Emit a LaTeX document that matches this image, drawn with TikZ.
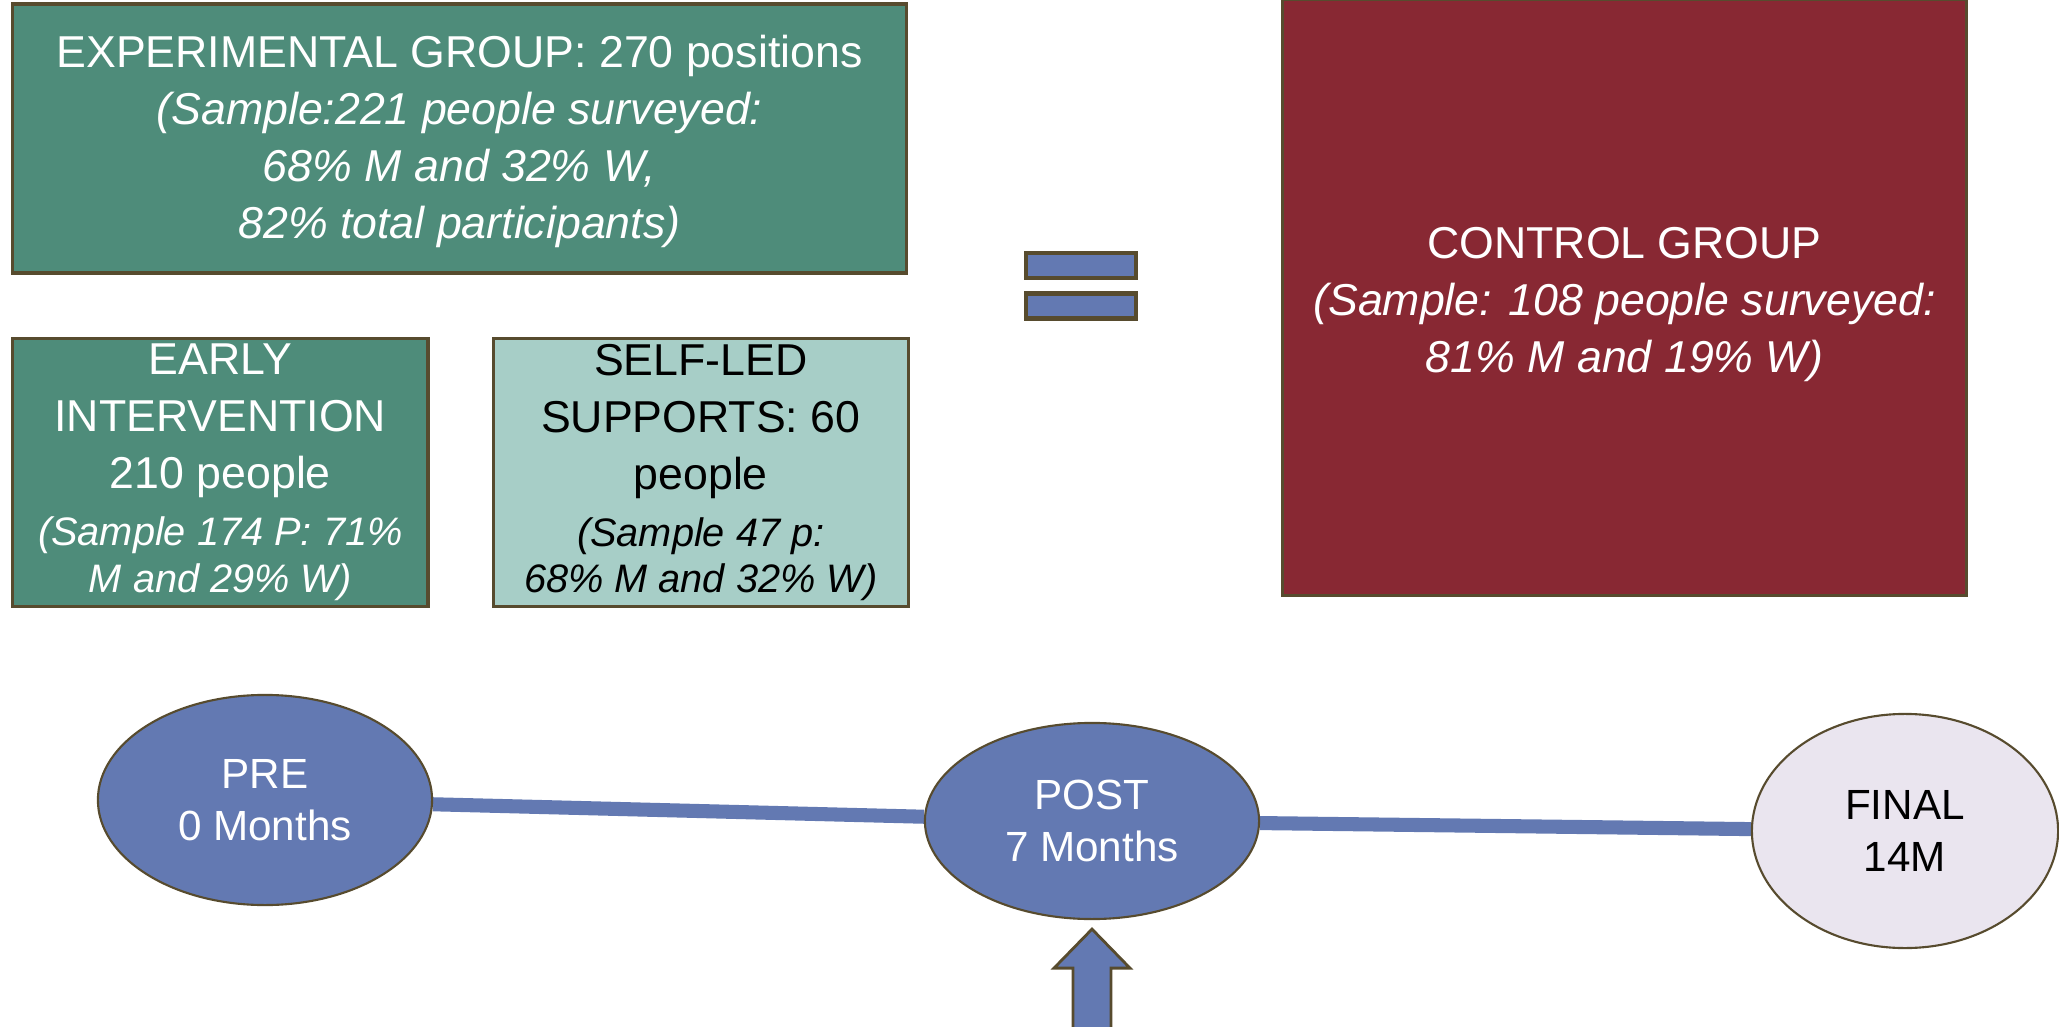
\documentclass[tikz,border=0pt]{standalone}
\usepackage{fontspec}
\setmainfont{Liberation Sans}
\usepackage{xcolor}
\usepackage{tikz}
\usetikzlibrary{positioning, shapes.geometric, backgrounds}

\definecolor{expgreen}{RGB}{78,140,122}
\definecolor{selfteal}{RGB}{167,206,199}
\definecolor{ctrlred}{RGB}{136,40,51}
\definecolor{timeblue}{RGB}{99,121,178}
\definecolor{finallav}{RGB}{234,229,239}
\definecolor{edgebrown}{RGB}{87,75,46}

\newcommand{\smallit}[1]{{\fontsize{11.3}{13.4}\selectfont\itshape #1}}

\begin{document}
\begin{tikzpicture}[
    x=0.01cm,
    y=-0.01cm,
    groupbox/.style={
        rectangle,
        draw=edgebrown,
        line width=0.9pt,
        inner sep=0pt,
        align=center,
        font=\fontsize{12.7}{16.2}\selectfont
    },
    subbox/.style={
        groupbox,
        minimum width=4.15cm,
        minimum height=2.68cm
    },
    eqbar/.style={
        rectangle,
        draw=edgebrown,
        fill=timeblue,
        line width=1.3pt,
        minimum width=1.10cm,
        minimum height=0.25cm,
        inner sep=0pt
    },
    stage/.style={
        ellipse,
        draw=edgebrown,
        line width=0.6pt,
        inner sep=0pt,
        align=center,
        font=\fontsize{12}{14.8}\selectfont
    },
    timeline/.style={draw=timeblue, line width=4pt},
    blockarrow/.style={draw=edgebrown, fill=timeblue, line width=0.8pt, line join=miter},
    node distance=0.62cm
]

\useasboundingbox (0,0) rectangle (2059,1027);

\node[groupbox, fill=expgreen, text=white, minimum width=8.93cm, minimum height=2.69cm] (expgroup) at (459.5,138.5) {
    \rule{0pt}{11pt}EXPERIMENTAL GROUP: 270 positions\\
    \textit{(Sample:221 people surveyed:}\\
    \textit{68\% M and 32\% W,}\\
    \textit{82\% total participants)}
};

\node[subbox, fill=expgreen, text=white, below right=0.62cm and 0cm of expgroup.south west] (early) {
    EARLY\\
    INTERVENTION\\
    210 people\\
    \smallit{(Sample 174 P: 71\%}\\[-3pt]
    \smallit{M and 29\% W)}
};

\node[subbox, fill=selfteal, text=black, right=of early] (selfled) {
    SELF-LED\\
    SUPPORTS: 60\\
    people\\
    \smallit{(Sample 47 p:}\\[-3pt]
    \smallit{68\% M and 32\% W)}
};

\node[eqbar] (eqtop) at (1081,265.5) {};
\node[eqbar, below=0.11cm of eqtop] (eqbottom) {};

\node[groupbox, fill=ctrlred, text=white, minimum width=6.83cm, minimum height=5.95cm] (control) at (1624.5,297.5) {
    \rule{0pt}{12.6pt}CONTROL GROUP\\
    \textit{(Sample: 108 people surveyed:}\\
    \textit{81\% M and 19\% W)}
};

\node[stage, fill=timeblue, text=white, minimum width=3.34cm, minimum height=2.10cm] (pre) at (265,800) {PRE\\0 Months};
\node[stage, fill=timeblue, text=white, minimum width=3.34cm, minimum height=1.96cm] (post) at (1092,821) {POST\\7 Months};
\node[stage, fill=finallav, text=black, minimum width=3.06cm, minimum height=2.34cm] (final) at (1905,831) {FINAL\\14M};

\begin{scope}[on background layer]
    \draw[timeline] (pre) -- (post);
    \draw[timeline] (post) -- (final);
\end{scope}

\coordinate (arrowtip) at ([yshift=-0.09cm]post.south);
\draw[blockarrow] (arrowtip) -- ++(38,39) -- ++(-19,0) -- ++(0,75) -- ++(-38,0) -- ++(0,-75) -- ++(-19,0) -- cycle;

\end{tikzpicture}
\end{document}
